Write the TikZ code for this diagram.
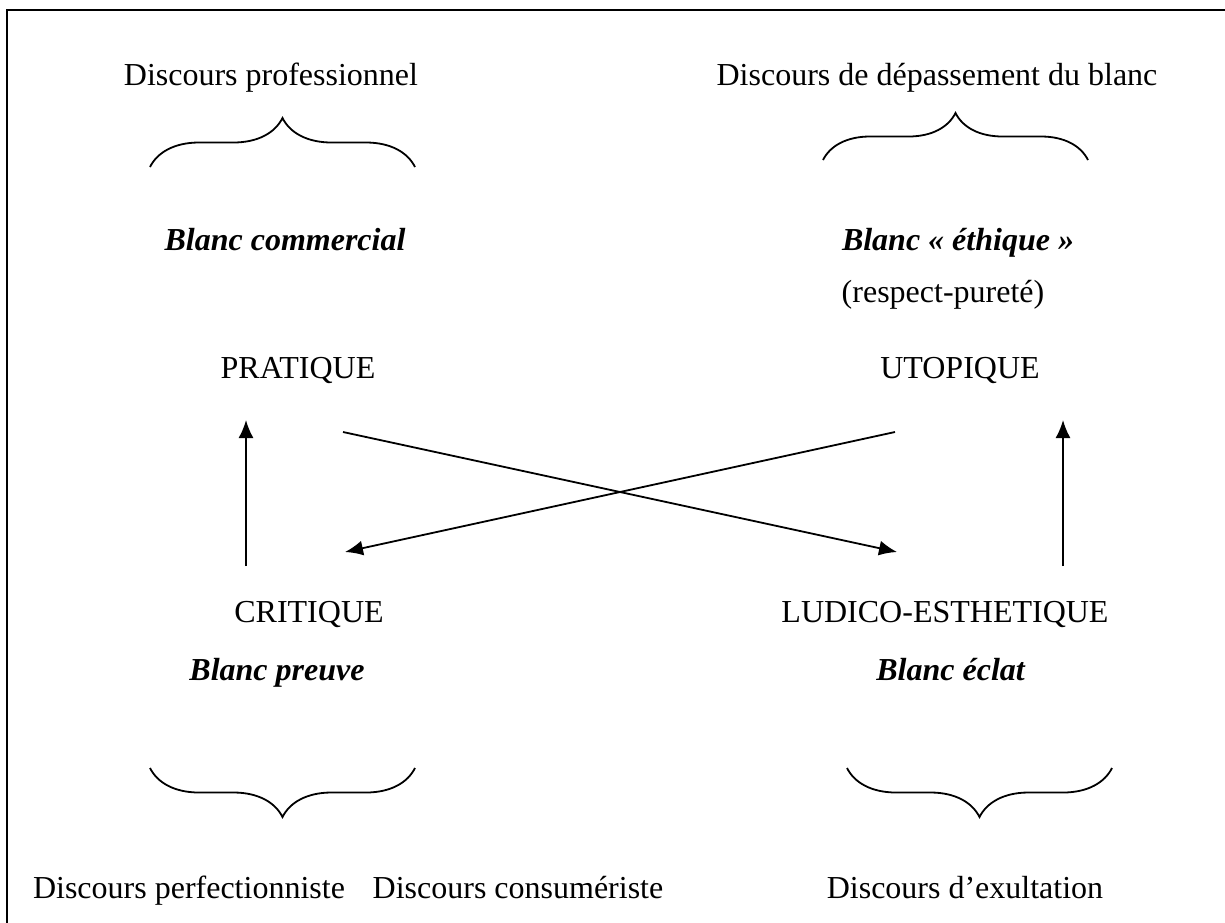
\documentclass[tikz,border=0pt]{standalone}
\usepackage{fontspec}
\setmainfont{Liberation Serif}
\usepackage{tikz}
\usetikzlibrary{arrows.meta,decorations.pathreplacing}

\begin{document}
\begin{tikzpicture}[x=1pt,y=-1pt,line width=1.8pt,font=\fontsize{32}{38}\selectfont,
		>={Latex[length=18pt,width=15pt]}]
		\clip (0,0) rectangle (1225,922);
%		\draw[help lines,step=50] (0,0) grid (1225,922);
		\draw[line width=2.2pt] (7,10) rectangle (1240,940);
		\path (150,167) coordinate (pro_l);
		\path (415,167) coordinate (pro_r);
		\path (823,160) coordinate (dep_l);
		\path (1088,160) coordinate (dep_r);
		\path (150,768) coordinate (perf_l);
		\path (415,768) coordinate (perf_r);
		\path (847,768) coordinate (exul_l);
		\path (1112,768) coordinate (exul_r);
		\path (246,566) coordinate (crit_up);
		\path (246,420) coordinate (prat_down);
		\path (1063,566) coordinate (ludi_up);
		\path (1063,420) coordinate (utop_down);
		\path (343,432) coordinate (cross1_start);
		\path (897,552) coordinate (cross1_end);
		\path (895,432) coordinate (cross2_start);
		\path (345,552) coordinate (cross2_end);
		\path (271,85) node(d_pro) [anchor=base] {Discours professionnel};
		\path (937,85) node(d_dep) [anchor=base] {Discours de dépassement du blanc};
		\path (285,250) node(b_com) [anchor=base] {\textbf{\textit{Blanc commercial}}};
		\path (958,250) node(b_eth) [anchor=base] {\textbf{\textit{Blanc « éthique »}}};
		\path (943,302) node(respect) [anchor=base] {(respect-pureté)};
		\path (298,378) node(pratique) [anchor=base] {PRATIQUE};
		\path (960,378) node(utopique) [anchor=base] {UTOPIQUE};
		\path (309,622) node(critique) [anchor=base] {CRITIQUE};
		\path (945,622) node(ludico) [anchor=base] {LUDICO-ESTHETIQUE};
		\path (277,680) node(b_preuve) [anchor=base] {\textbf{\textit{Blanc preuve}}};
		\path (951,680) node(b_eclat) [anchor=base] {\textbf{\textit{Blanc éclat}}};
		\path (189,898) node(d_perf) [anchor=base] {Discours perfectionniste};
		\path (518,898) node(d_cons) [anchor=base] {Discours consumériste};
		\path (965,898) node(d_exul) [anchor=base] {Discours d’exultation};

		\draw[decorate,decoration={brace,amplitude=49pt}] (pro_l) -- (pro_r);
		\draw[decorate,decoration={brace,amplitude=47pt}] (dep_l) -- (dep_r);
		\draw[decorate,decoration={brace,amplitude=49pt}] (perf_r) -- (perf_l);
		\draw[decorate,decoration={brace,amplitude=49pt}] (exul_r) -- (exul_l);
		\draw[->] (crit_up) -- (prat_down);
		\draw[->] (ludi_up) -- (utop_down);
		\draw[->] (cross1_start) -- (cross1_end);
		\draw[->] (cross2_start) -- (cross2_end);
	\end{tikzpicture}
\end{document}
